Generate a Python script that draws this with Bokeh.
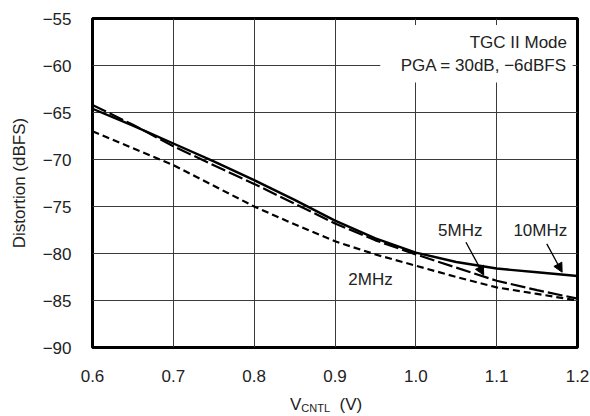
from bokeh.plotting import figure
from bokeh.models import (Range1d, FixedTicker, Label, Arrow, NormalHead, BoxAnnotation, Div)
from bokeh.layouts import column
from bokeh.embed import file_html
from bokeh.resources import INLINE

# Data
vcntl = [0.6, 0.65, 0.7, 0.75, 0.8, 0.85, 0.9, 0.95, 1.0, 1.05, 1.1, 1.15, 1.2]
dist_10mhz = [-64.6, -66.4, -68.3, -70.2, -72.2, -74.3, -76.5, -78.4, -79.9, -80.9, -81.6, -82.0, -82.4]
dist_5mhz = [-64.2, -66.3, -68.6, -70.6, -72.6, -74.7, -76.8, -78.6, -80.1, -81.5, -82.9, -83.9, -84.8]
dist_2mhz = [-67.0, -68.8, -70.6, -72.8, -75.0, -76.9, -78.7, -80.1, -81.3, -82.5, -83.6, -84.3, -85.0]

x_ticks = [0.6, 0.7, 0.8, 0.9, 1.0, 1.1, 1.2]
x_tick_labels = ["0.6", "0.7", "0.8", "0.9", "1.0", "1.1", "1.2"]
y_ticks = [-90, -85, -80, -75, -70, -65, -60, -55]
y_tick_labels = ["\u221290", "\u221285", "\u221280", "\u221275", "\u221270", "\u221265", "\u221260", "\u221255"]

FONT = "Liberation Sans"
TXT = "#222222"
FS = "17px"

p = figure(width=590, height=398, output_backend="svg", toolbar_location=None,
           x_range=Range1d(0.6, 1.2), y_range=Range1d(-90, -55),
           min_border_left=92, min_border_right=13, min_border_top=18, min_border_bottom=51)
p.background_fill_color = "white"
p.border_fill_color = "white"
p.outline_line_color = "black"
p.outline_line_width = 3

for ax in (p.xaxis[0], p.yaxis[0]):
    ax.axis_line_color = None
    ax.major_tick_line_color = None
    ax.minor_tick_line_color = None
    ax.major_label_text_font = FONT
    ax.major_label_text_font_size = FS
    ax.major_label_text_color = TXT
    ax.axis_label_text_font = FONT
    ax.axis_label_text_font_size = "17px"
    ax.axis_label_text_font_style = "normal"
    ax.axis_label_text_color = TXT

p.xaxis.ticker = FixedTicker(ticks=x_ticks)
p.xaxis.major_label_overrides = {t: s for t, s in zip(x_ticks, x_tick_labels)}
p.xaxis.major_label_standoff = 16
p.xaxis.axis_label = None
p.yaxis.ticker = FixedTicker(ticks=y_ticks)
p.yaxis.major_label_overrides = {t: s for t, s in zip(y_ticks, y_tick_labels)}
p.yaxis.major_label_standoff = 15
p.yaxis.axis_label = "Distortion (dBFS)"
p.yaxis.axis_label_standoff = 11

p.grid.grid_line_color = "#3a3a3a"
p.grid.grid_line_width = 1
p.grid.grid_line_alpha = 1

p.line(vcntl, dist_2mhz, line_color="black", line_width=2.2, line_dash="7 4")
p.line(vcntl, dist_5mhz, line_color="black", line_width=2.2, line_dash="15 4")
p.line(vcntl, dist_10mhz, line_color="black", line_width=2.4)

# white box behind the condition text
p.add_layout(BoxAnnotation(left=0.956, right=1.194, top=-55.7, bottom=-61.8,
                           fill_color="white", fill_alpha=1, line_color=None, level="underlay"))

def lab(x, y, text, align="left", size=FS, baseline="middle", xo=0, yo=0, color=TXT):
    p.add_layout(Label(x=x, y=y, text=text, text_font=FONT, text_font_size=size,
                       text_color=color, text_align=align, text_baseline=baseline,
                       x_offset=xo, y_offset=yo))

lab(1.187, -57.5, "TGC II Mode", align="right")
lab(1.187, -60.0, "PGA = 30dB, \u22126dBFS", align="right")
lab(1.055, -77.6, "5MHz", align="center")
lab(1.154, -77.6, "10MHz", align="center")
lab(0.944, -82.8, "2MHz", align="center")

head = dict(size=9, fill_color="black", line_color="black")
p.add_layout(Arrow(x_start=1.062, y_start=-78.8, x_end=1.084, y_end=-82.3,
                   line_width=1.3, end=NormalHead(**head)))
p.add_layout(Arrow(x_start=1.162, y_start=-78.97, x_end=1.181, y_end=-81.99,
                   line_width=1.3, end=NormalHead(**head)))

# x axis title with subscript (HTML text below the plot)
xtitle = Div(
    text=("<div style=\"font-family:'Liberation Sans';font-size:17px;color:#222222;"
          "line-height:15px;margin:-1px 0 0 0;padding:0 0 0 290px;white-space:nowrap\">"
          "V<sub style=\"font-size:11px;line-height:0;vertical-align:-2px\">CNTL</sub>"
          "&nbsp;&nbsp;(V)</div>"),
    width=590, height=18, margin=(0, 0, 0, 0))

layout = column(p, xtitle, spacing=0)
open("out.html", "w").write(file_html(layout, INLINE))
